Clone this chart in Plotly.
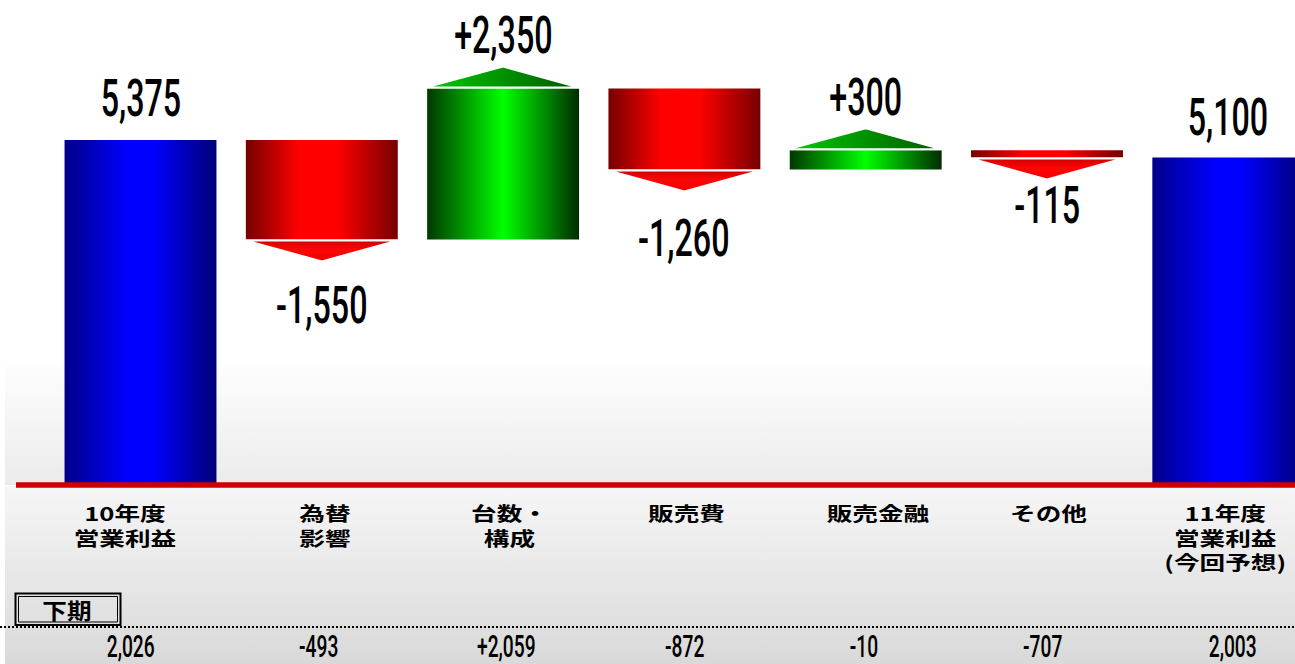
import plotly.graph_objects as go

# ---------------- data ----------------
categories = ["10年度\n営業利益", "為替\n影響", "台数・\n構成", "販売費", "販売金融", "その他",
              "11年度\n営業利益\n(今回予想)"]
kinds = ["total", "delta", "delta", "delta", "delta", "delta", "total"]
values = [5375, -1550, 2350, -1260, 300, -115, 5100]
h2_title = "下期"
h2_values = [2026, -493, 2059, -872, -10, -707, 2003]

# ---------------- layout calibration (style) ----------------
W, H = 1295, 664
BASE_PX = 485          # pixel row of the zero line
PX_PER_UNIT = 0.0642   # vertical scale
X0_PX = 140.5          # centre of first category
STEP_PX = 181.3        # distance between categories
BAR_HALF = 0.419       # half bar width in category units
TRI_PX = 20            # triangle height
GAP_PX = 1             # gap between bar end and triangle base

Y_MAX = BASE_PX / PX_PER_UNIT
Y_MIN = -(H - BASE_PX) / PX_PER_UNIT
X_MIN = -X0_PX / STEP_PX
X_MAX = (W - X0_PX) / STEP_PX


def ux(px):
    return X_MIN + px / STEP_PX


def uy(py):
    return (BASE_PX - py) / PX_PER_UNIT


def du(px):
    return px / PX_PER_UNIT


def fx(px):
    return px / W


def fy(py):
    return 1 - py / H


BLUE = [[0, "#00008a"], [0.42, "#0000ff"], [0.58, "#0000ff"], [1, "#000078"]]
RED = [[0, "#760000"], [0.35, "#ff0000"], [0.6, "#ff0000"], [1, "#760000"]]
GREEN = [[0, "#003800"], [0.5, "#00ff00"], [1, "#002c00"]]
RED_TRI = [[0, "#ee0000"], [0.55, "#ff0505"], [1, "#d00000"]]
GREEN_TRI = [[0, "#00cc00"], [1, "#005800"]]

LABEL_SHIFT = [41, 66, 53, 69, 53, 48, 40]      # px between bar end and label centre
CAT_XSHIFT = [-16, 3, 6, 2, 12, 1, -3]          # px horizontal nudges of category labels
H2_XSHIFT = [-10, -3, 3, 0, -2, -5, 4]          # px horizontal nudges of second-half values
NUM_FONT = "Roboto, Liberation Sans, sans-serif"
CJK_FONT = "Noto Sans CJK JP, sans-serif"
BOX_FONT = "Noto Sans CJK SC, Noto Sans CJK JP, sans-serif"

fig = go.Figure()


def poly(xs, ys, gtype, cscale, line_color=None, line_width=0):
    fig.add_trace(go.Scatter(
        x=xs + [xs[0]], y=ys + [ys[0]], mode="lines", fill="toself",
        fillgradient=dict(type=gtype, colorscale=cscale),
        line=dict(width=line_width, color=line_color or "rgba(0,0,0,0)"),
        hoverinfo="skip", showlegend=False))


# background gradients
poly([ux(5), ux(W + 5), ux(W + 5), ux(5)], [uy(485), uy(485), uy(355), uy(355)],
     "vertical", [[0, "#ebebeb"], [1, "#ffffff"]])
poly([ux(5), ux(W + 5), ux(W + 5), ux(5)], [uy(H + 5), uy(H + 5), uy(486), uy(486)],
     "vertical", [[0, "#d8d8d8"], [1, "#f6f6f6"]])

# bars
running = 0
ends = []
for i, (k, v) in enumerate(zip(kinds, values)):
    if k == "total":
        y0, y1 = 0, v
        running = v
        cs = BLUE
    else:
        y0, y1 = running, running + v
        running = y1
        cs = GREEN if v > 0 else RED
    ends.append(y1)
    xl, xr = i - BAR_HALF, i + BAR_HALF
    poly([xl, xr, xr, xl], [y0, y0, y1, y1], "horizontal", cs)
    if k == "delta":
        sgn = 1 if v > 0 else -1
        base = y1 + sgn * du(GAP_PX)
        tip = base + sgn * du(TRI_PX + 1)
        if v > 0:
            poly([xl - 0.01, xr, i], [base, base, tip], "horizontal", GREEN_TRI, "white", 2)
        else:
            poly([xl, xr, i], [base, base, tip], "vertical", RED_TRI, "white", 2)

annotations = []
# value labels
for i, (k, v, e) in enumerate(zip(kinds, values, ends)):
    if k == "total":
        txt = f"{v:,}"
        sh = LABEL_SHIFT[i]
    else:
        txt = f"{v:+,}"
        sh = LABEL_SHIFT[i] if v > 0 else -LABEL_SHIFT[i]
    annotations.append(dict(x=i, y=e, xref="x", yref="y", text=txt, showarrow=False,
                            yshift=sh, xanchor="center", yanchor="middle",
                            font=dict(family=NUM_FONT, size=52, color="black", weight=500)))

# category labels
for i, cat in enumerate(categories):
    annotations.append(dict(x=i, y=fy(497), xref="x", yref="paper",
                            text="<b>" + cat.replace("\n", "<br>") + "</b>",
                            showarrow=False, xshift=CAT_XSHIFT[i], align="center",
                            xanchor="center", yanchor="top",
                            font=dict(family=CJK_FONT, size=19, color="black")))

# second-half row
for i, (k, v) in enumerate(zip(kinds, h2_values)):
    txt = f"{v:,}" if k == "total" else f"{v:+,}"
    annotations.append(dict(x=i, y=fy(646), xref="x", yref="paper", text=txt,
                            showarrow=False, xanchor="center", yanchor="middle",
                            xshift=H2_XSHIFT[i],
                            font=dict(family=NUM_FONT, size=31, color="black", weight=500)))
annotations.append(dict(x=fx(67), y=fy(609), xref="paper", yref="paper",
                        text=f"<b>{h2_title}</b>", showarrow=False,
                        xanchor="center", yanchor="middle",
                        font=dict(family=BOX_FONT, size=22, color="black")))

shapes = [
    # zero line
    dict(type="line", xref="paper", yref="y", x0=fx(16), x1=1, y0=0, y1=0,
         line=dict(color="#cc0000", width=5.5)),
    # dotted separator
    dict(type="line", xref="paper", yref="paper", x0=0, x1=1, y0=fy(627), y1=fy(627),
         line=dict(color="black", width=2, dash="2px,2px")),
    # double box around 下期
    dict(type="rect", xref="paper", yref="paper", x0=fx(15.5), x1=fx(120.5),
         y0=fy(625), y1=fy(593.5), line=dict(color="black", width=2)),
    dict(type="rect", xref="paper", yref="paper", x0=fx(18.5), x1=fx(117.5),
         y0=fy(622), y1=fy(596.5), line=dict(color="black", width=1)),
]

fig.update_layout(
    width=W, height=H, margin=dict(l=0, r=0, t=0, b=0),
    paper_bgcolor="white", plot_bgcolor="white", showlegend=False,
    xaxis=dict(range=[X_MIN, X_MAX], visible=False, fixedrange=True),
    yaxis=dict(range=[Y_MIN, Y_MAX], visible=False, fixedrange=True),
    annotations=annotations, shapes=shapes,
)

# page styling: no body margin; condensed numerals and wide CJK glyphs like the original
css = ("body{margin:0;overflow:hidden;}"
       "text.annotation-text[style*='Roboto']{transform-box:fill-box;transform-origin:50% 50%;"
       "transform:scale(0.62,1);}"
       "text.annotation-text[style*='CJK JP']{transform-box:fill-box;transform-origin:50% 50%;"
       "transform:scale(1.35,1);}"
       "text.annotation-text[style*='CJK SC']{transform-box:fill-box;transform-origin:50% 50%;"
       "transform:scale(1.12,1);}")
post = ("var s=document.createElement('style');s.textContent=" + repr(css) +
        ";document.head.appendChild(s);")

fig.write_html("out.html", config={"displayModeBar": False}, post_script=post)
